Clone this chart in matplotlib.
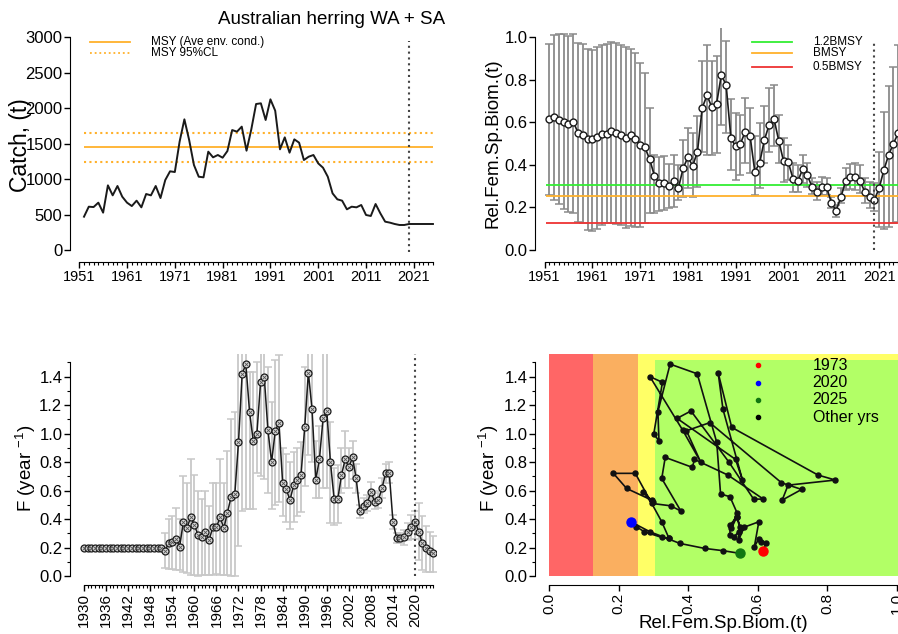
import numpy as np
import matplotlib
matplotlib.use('Agg')
import matplotlib.pyplot as plt
from matplotlib.lines import Line2D
from matplotlib.patches import Rectangle

plt.rcParams['font.family'] = ['Liberation Sans', 'DejaVu Sans']
plt.rcParams['mathtext.default'] = 'regular'

# ---------------- data ----------------
years = np.arange(1952, 2026)

catch = [470, 611, 606, 668, 527, 912, 771, 903, 752, 668,
         620, 696, 602, 790, 771, 903, 733, 987, 1110, 1100,
         1528, 1843, 1551, 1199, 1034, 1025, 1387, 1307, 1340, 1302,
         1396, 1692, 1669, 1740, 1401, 1702, 2059, 2069, 1834, 2125,
         1965, 1420, 1589, 1373, 1561, 1514, 1269, 1316, 1340, 1222,
         1161, 1034, 799, 715, 696, 574, 611, 602, 635, 494,
         480, 649, 517, 400, 386, 367, 353, 353, 367, 367,
         367, 367, 367, 367]
msy = 1450
msy_lo = 1245
msy_hi = 1650

biom = [0.615, 0.623, 0.610, 0.603, 0.590, 0.603, 0.551, 0.540, 0.520, 0.520,
        0.532, 0.545, 0.545, 0.560, 0.548, 0.540, 0.524, 0.540, 0.520, 0.493,
        0.482, 0.426, 0.348, 0.313, 0.316, 0.301, 0.326, 0.290, 0.384, 0.436,
        0.395, 0.462, 0.668, 0.726, 0.670, 0.687, 0.823, 0.773, 0.525, 0.486,
        0.500, 0.556, 0.536, 0.368, 0.408, 0.517, 0.588, 0.616, 0.514, 0.418,
        0.412, 0.334, 0.324, 0.379, 0.350, 0.295, 0.271, 0.298, 0.295, 0.223,
        0.185, 0.248, 0.324, 0.345, 0.345, 0.324, 0.274, 0.251, 0.235, 0.290,
        0.376, 0.447, 0.500, 0.549]
biom_lo = [0.260, 0.235, 0.215, 0.195, 0.180, 0.175, 0.133, 0.125, 0.094, 0.091,
           0.097, 0.117, 0.125, 0.125, 0.122, 0.117, 0.102, 0.113, 0.107, 0.110,
           0.125, 0.175, 0.175, 0.185, 0.188, 0.196, 0.204, 0.235, 0.250, 0.290,
           0.250, 0.297, 0.462, 0.447, 0.447, 0.455, 0.588, 0.549, 0.376, 0.329,
           0.353, 0.408, 0.360, 0.259, 0.290, 0.410, 0.462, 0.486, 0.408, 0.321,
           0.329, 0.274, 0.274, 0.313, 0.298, 0.262, 0.235, 0.259, 0.259, 0.196,
           0.157, 0.219, 0.282, 0.285, 0.282, 0.266, 0.219, 0.196, 0.185, 0.110,
           0.097, 0.110, 0.125, 0.133]
biom_hi = [0.965, 1.009, 1.012, 1.012, 1.005, 1.016, 0.973, 0.967, 0.942, 0.939,
           0.951, 0.962, 0.967, 0.978, 0.973, 0.962, 0.951, 0.942, 0.923, 0.880,
           0.830, 0.665, 0.446, 0.438, 0.441, 0.404, 0.446, 0.400, 0.516, 0.571,
           0.548, 0.629, 0.886, 0.964, 0.886, 0.909, 1.060, 0.980, 0.708, 0.643,
           0.635, 0.713, 0.666, 0.533, 0.596, 0.674, 0.760, 0.776, 0.635, 0.525,
           0.494, 0.408, 0.400, 0.447, 0.408, 0.337, 0.321, 0.345, 0.337, 0.251,
           0.212, 0.290, 0.384, 0.404, 0.408, 0.400, 0.337, 0.321, 0.313, 0.462,
           0.650, 0.770, 0.860, 0.960]
bmsy = 0.255

f_years = np.arange(1930, 2026)
fmort = [0.20, 0.20, 0.20, 0.20, 0.20, 0.20, 0.20, 0.20, 0.20, 0.20, 0.20,
         0.20, 0.20, 0.20, 0.20, 0.20, 0.20, 0.20, 0.20, 0.20, 0.20, 0.20,
         0.176, 0.229, 0.240, 0.261, 0.205, 0.381, 0.334, 0.416, 0.358, 0.288,
         0.276, 0.311, 0.252, 0.341, 0.341, 0.416, 0.334, 0.446, 0.557, 0.576,
         0.939, 1.420, 1.488, 1.154, 0.950, 0.997, 1.360, 1.400, 1.025, 0.800,
         1.020, 1.077, 0.655, 0.608, 0.533, 0.638, 0.674, 0.709, 1.044, 1.428,
         1.170, 0.674, 0.819, 1.107, 1.159, 0.800, 0.540, 0.540, 0.709, 0.819,
         0.763, 0.833, 0.685, 0.456, 0.493, 0.510, 0.592, 0.522, 0.533, 0.615,
         0.721, 0.721, 0.381, 0.264, 0.264, 0.271, 0.311, 0.346, 0.381, 0.311,
         0.229, 0.194, 0.178, 0.159]
# CIs only for the estimated years 1952-2025
fmort_lo = [0.055, 0.050, 0.050, 0.045, 0.040, 0.030, 0.020, 0.010, 0.005, 0.000,
            0.005, 0.010, 0.010, 0.010, 0.015, 0.010, 0.010, 0.005, 0.000, 0.000,
            0.210, 0.460, 0.470, 0.470, 0.470, 0.720, 0.700, 0.680, 0.580, 0.470,
            0.500, 0.520, 0.420, 0.380, 0.330, 0.380, 0.420, 0.450, 0.630, 0.850,
            0.800, 0.550, 0.550, 0.620, 0.620, 0.370, 0.360, 0.370, 0.580, 0.620,
            0.620, 0.680, 0.580, 0.410, 0.440, 0.460, 0.520, 0.470, 0.480, 0.550,
            0.650, 0.650, 0.330, 0.230, 0.230, 0.220, 0.250, 0.260, 0.260, 0.110,
            0.040, 0.030, 0.030, 0.030]
fmort_hi = [0.30, 0.40, 0.42, 0.48, 0.40, 0.70, 0.65, 0.82, 0.71, 0.60,
            0.54, 0.60, 0.49, 0.65, 0.65, 0.82, 0.65, 0.88, 1.10, 1.15,
            1.65, 1.65, 1.65, 1.43, 1.43, 1.50, 1.65, 1.65, 1.47, 1.22,
            1.52, 1.55, 0.90, 0.86, 0.80, 0.87, 0.90, 0.94, 1.47, 1.65,
            1.65, 0.95, 1.05, 1.65, 1.65, 1.08, 0.76, 0.78, 0.90, 1.02,
            0.90, 0.95, 0.79, 0.50, 0.55, 0.57, 0.66, 0.58, 0.60, 0.69,
            0.79, 0.80, 0.43, 0.30, 0.30, 0.32, 0.37, 0.43, 0.46, 0.51,
            0.42, 0.35, 0.31, 0.28]
f_green_top = 1.517   # top of the green zone in the phase plot
last_obs = 2020       # dotted line

orange = '#FFB12B'
W, H = 898, 634
fig = plt.figure(figsize=(W / 100, H / 100), dpi=100)


def px_axes(left, top, right, bottom):
    # axes box given in pixels of the final image
    return fig.add_axes([left / W, 1 - bottom / H, (right - left) / W, (bottom - top) / H])


def r_axes(ax):
    # base-R look: open box, outward ticks
    ax.spines['top'].set_visible(False)
    ax.spines['right'].set_visible(False)
    ax.patch.set_alpha(0)
    ax.tick_params(which='major', direction='out', length=4, width=1, pad=1.5,
                   labelsize=12)
    ax.tick_params(which='minor', direction='out', length=2.5, width=0.8)
    ax.tick_params(axis='x', labelsize=10.5)


def ftext(x, y, s, **kw):
    fig.text(x / W, 1 - y / H, s, **kw)


# ---------------- top left: catch ----------------
ax1 = px_axes(70, 30, 436, 262)
r_axes(ax1)
ax1.set_xlim(1949.07, 2025.64)
ax1.set_ylim(-169, 3103)
ax1.hlines(msy, 1952, 2025, color=orange, lw=1.3)
ax1.hlines([msy_lo, msy_hi], 1952, 2025, color=orange, lw=1.5, linestyles=(0, (1, 1.6)))
ax1.plot(years, catch, color='#1a1a1a', lw=1.4)
ax1.vlines(last_obs, -30, 2950, color='#444444', lw=1.5, linestyles=(0, (1, 1.8)))
ax1.set_yticks(np.arange(0, 3001, 500))
ax1.set_xticks(np.arange(1951, 2022, 10))
ax1.set_xticks(np.arange(1951, 2026, 1), minor=True)
ax1.spines['left'].set_bounds(0, 3000)
ax1.spines['bottom'].set_bounds(1951, 2025)
ftext(21, 145, 'Catch, (t)', rotation=90, ha='center', va='center', fontsize=16.5)
ftext(332, 20, 'Australian herring WA + SA', ha='center', va='center', fontsize=13.5)
# legend
fig.add_artist(Line2D([90 / W, 130 / W], [1 - 41.7 / H] * 2, color=orange, lw=1.3))
fig.add_artist(Line2D([90 / W, 130 / W], [1 - 53.3 / H] * 2, color=orange, lw=1.3,
                      linestyle=(0, (1, 1.6))))
ftext(150.7, 42, 'MSY (Ave env. cond.)', va='center', fontsize=8.5)
ftext(150.7, 53.5, 'MSY 95%CL', va='center', fontsize=8.5)

# ---------------- top right: relative female spawning biomass ----------------
ax2 = px_axes(535, 28, 901, 262)
r_axes(ax2)
ax2.set_xlim(1949.01, 2025.58)
ax2.set_ylim(-0.056, 1.042)
b = np.array(biom)
ax2.errorbar(years, b, yerr=[b - np.array(biom_lo), np.array(biom_hi) - b], fmt='none',
             ecolor='#8a8a8a', elinewidth=1.3, capsize=2.6, capthick=1.1, zorder=1)
ax2.hlines(1.2 * bmsy, 1951.3, 2030, color='#33EE33', lw=1.3, zorder=2)
ax2.hlines(bmsy, 1951.3, 2030, color=orange, lw=1.3, zorder=2)
ax2.hlines(0.5 * bmsy, 1951.3, 2030, color='#EE3333', lw=1.3, zorder=2)
ax2.plot(years, b, color='#1a1a1a', lw=1.2, marker='o', ms=5, mfc='white', mec='#1a1a1a',
         mew=1.0, zorder=3)
ax2.vlines(last_obs, 0, 0.985, color='#444444', lw=1.5, linestyles=(0, (1, 1.8)), zorder=4)
ax2.set_yticks(np.arange(0, 1.01, 0.2))
ax2.set_yticklabels(['%.1f' % v for v in np.arange(0, 1.01, 0.2)])
ax2.set_xticks(np.arange(1951, 2022, 10))
ax2.set_xticks(np.arange(1951, 2026, 1), minor=True)
ax2.spines['left'].set_bounds(0, 1.0)
ax2.spines['bottom'].set_bounds(1951, 2025)
ftext(493, 143, 'Rel.Fem.Sp.Biom.(t)', rotation=90, ha='center', va='center', fontsize=13.5)
for yy, col, lab in [(41.7, '#33EE33', '1.2BMSY'), (53.3, orange, 'BMSY'), (66.7, '#EE3333', '0.5BMSY')]:
    fig.add_artist(Line2D([752 / W, 792 / W], [1 - yy / H] * 2, color=col, lw=1.3))
    ftext(812.7, yy, lab, va='center', fontsize=8.5)

# ---------------- bottom left: fishing mortality ----------------
ax3 = px_axes(70, 354, 436, 585)
r_axes(ax3)
ax3.set_xlim(1926.19, 2025.70)
ax3.set_ylim(-0.063, 1.559)
fm = np.array(fmort)
fm_est = fm[f_years >= 1952]
ax3.errorbar(years, fm_est, yerr=[fm_est - np.array(fmort_lo), np.array(fmort_hi) - fm_est],
             fmt='none', ecolor='#c8c8c8', elinewidth=1.3, capsize=2.6, capthick=1.1, zorder=1)
ax3.plot(f_years, fm, color='#1a1a1a', lw=1.1, marker='o', ms=5, mfc='#d8d8d8',
         mec='#1a1a1a', mew=0.9, zorder=3)
ax3.plot(f_years, fm, ls='none', marker='x', ms=2.6, mec='#555555', mew=0.6, zorder=4)
ax3.vlines(last_obs, 0, 1.56, color='#444444', lw=1.5, linestyles=(0, (1, 1.8)), zorder=5)
ax3.set_yticks(np.arange(0, 1.41, 0.2))
ax3.set_yticklabels(['%.1f' % v for v in np.arange(0, 1.41, 0.2)])
ax3.set_yticks(np.arange(0, 1.51, 0.1), minor=True)
ax3.set_xticks(np.arange(1930, 2021, 6))
ax3.set_xticklabels([str(y) for y in range(1930, 2021, 6)], rotation=90, fontsize=11)
ax3.set_xticks(np.arange(1930, 2026, 1), minor=True)
ax3.spines['left'].set_bounds(0, 1.5)
ax3.spines['bottom'].set_bounds(1930, 2025)
ftext(26, 468, 'F (year $^{-1}$)', rotation=90, ha='center', va='center', fontsize=13.5)

# ---------------- bottom right: phase plot ----------------
ax4 = px_axes(535, 354, 901, 585)
r_axes(ax4)
ax4.set_xlim(-0.0402, 1.0115)
ax4.set_ylim(-0.063, 1.559)
ytop = 1.559
ax4.add_patch(Rectangle((0, 0), 0.5 * bmsy, ytop, color='#FF6666', lw=0, zorder=0))
ax4.add_patch(Rectangle((0.5 * bmsy, 0), 0.5 * bmsy, ytop, color='#FAAF60', lw=0, zorder=0))
ax4.add_patch(Rectangle((bmsy, 0), 2, ytop, color='#FFFF66', lw=0, zorder=0))
ax4.add_patch(Rectangle((1.2 * bmsy, 0), 2, f_green_top, color='#B2FF66', lw=0, zorder=0))
ax4.plot(b, fm_est, color='#111111', lw=1.2, marker='o', ms=3.6, zorder=3)
ax4.plot(b[0], fm_est[0], 'o', color='#FF0000', ms=6.5, zorder=4)
ax4.plot(b[years == 2020], fm_est[years == 2020], 'o', color='#0000FF', ms=6.5, zorder=4)
ax4.plot(b[-1], fm_est[-1], 'o', color='#117711', ms=6.5, zorder=4)
ax4.set_yticks(np.arange(0, 1.41, 0.2))
ax4.set_yticklabels(['%.1f' % v for v in np.arange(0, 1.41, 0.2)])
ax4.set_yticks(np.arange(0, 1.51, 0.1), minor=True)
ax4.set_xticks(np.arange(0, 1.01, 0.2))
ax4.set_xticklabels(['%.1f' % v for v in np.arange(0, 1.01, 0.2)], rotation=90, fontsize=11)
ax4.spines['left'].set_bounds(0, 1.5)
ax4.spines['bottom'].set_bounds(0, 1.0)
ftext(489, 468, 'F (year $^{-1}$)', rotation=90, ha='center', va='center', fontsize=13.5)
ftext(723, 623, 'Rel.Fem.Sp.Biom.(t)', ha='center', va='center', fontsize=13.5)
for yy, col, lab in [(365, '#FF0000', '1973'), (382.7, '#0000FF', '2020'),
                     (400, '#117711', '2025'), (417.3, '#000000', 'Other yrs')]:
    fig.add_artist(Line2D([758 / W], [1 - yy / H], marker='o', ms=3, color=col, ls='none'))
    ftext(812.7, yy, lab, va='center', fontsize=11.5)

fig.savefig('out.png', dpi=100)
